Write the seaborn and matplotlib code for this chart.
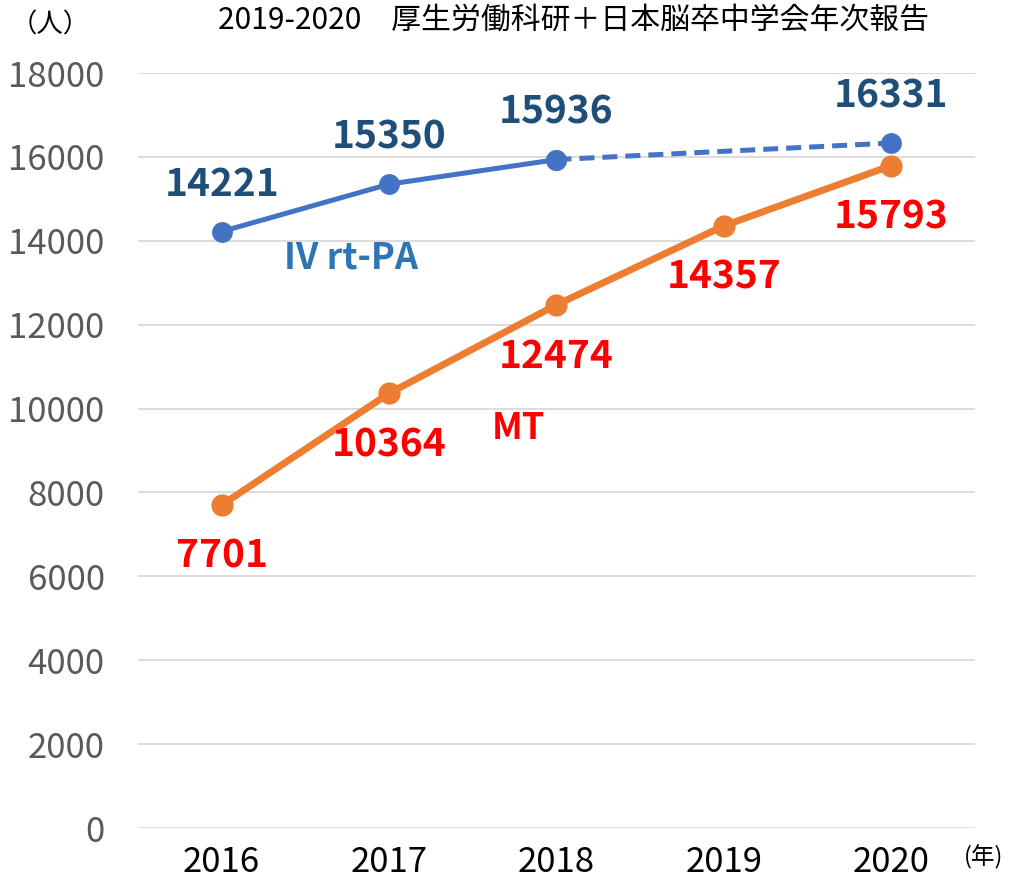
import pandas as pd
import matplotlib
matplotlib.use('Agg')
import matplotlib.pyplot as plt
import seaborn as sns

# data
years = [2016, 2017, 2018, 2019, 2020]
mt_values = [7701, 10364, 12474, 14357, 15793]
tpa_years = [2016, 2017, 2018]
tpa_values = [14221, 15350, 15936]
tpa_dash_years = [2018, 2020]
tpa_dash_values = [15936, 16331]

sns.set_style('white')
plt.rcParams['font.family'] = ['Noto Sans CJK JP', 'DejaVu Sans']

blue = '#4472C4'
orange = '#ED7D31'

fig = plt.figure(figsize=(10.1, 8.84), dpi=100)
ax = fig.add_axes([0.1366, 0.0633, 0.8287, 0.8541])

mt = pd.DataFrame({'year': years, 'value': mt_values})
tpa = pd.DataFrame({'year': tpa_years, 'value': tpa_values})
tpa2 = pd.DataFrame({'year': tpa_dash_years, 'value': tpa_dash_values})

sns.lineplot(data=tpa2, x='year', y='value', ax=ax, color=blue, lw=3.6,
             linestyle=(0, (3, 1.6)), marker='o', markersize=15, markeredgewidth=0)
sns.lineplot(data=tpa, x='year', y='value', ax=ax, color=blue, lw=3.6,
             marker='o', markersize=15, markeredgewidth=0)
sns.lineplot(data=mt, x='year', y='value', ax=ax, color=orange, lw=5,
             marker='o', markersize=16, markeredgewidth=0)

# data labels
for x, v in zip(tpa_years + [2020], tpa_values + [16331]):
    ax.annotate(str(v), (x, v), xytext=(0, 34), textcoords='offset points',
                ha='center', va='center', fontsize=28, fontweight='bold', color='#1F4E79')
for x, v in zip(years, mt_values):
    ax.annotate(str(v), (x, v), xytext=(0, -37), textcoords='offset points',
                ha='center', va='center', fontsize=28, fontweight='bold', color='#FF0000')

ax.text(2016.77, 13590, 'IV rt-PA', ha='center', va='center', fontsize=26,
        fontweight='bold', color='#2E75B6')
ax.text(2017.77, 9536, 'MT', ha='center', va='center', fontsize=26,
        fontweight='bold', color='#FF0000')

ax.set_xlim(2015.5, 2020.5)
ax.set_ylim(0, 18000)
ax.set_xticks(years)
ax.set_xticklabels([str(y) for y in years], fontsize=25, color='black')
ax.set_yticks(range(0, 18001, 2000))
ax.set_yticklabels([str(v) for v in range(0, 18001, 2000)], fontsize=25, color='#595959')
ax.tick_params(axis='both', length=0)
ax.tick_params(axis='x', pad=12)
ax.tick_params(axis='y', pad=24)
ax.set_xlabel('')
ax.set_ylabel('')
ax.grid(axis='y', color='#D9D9D9', lw=1.3)
for s in ax.spines.values():
    s.set_visible(False)

fig.text(0.568, 0.977, '2019-2020　厚生労働科研＋日本脳卒中学会年次報告', ha='center', va='center',
         fontsize=21.5, color='black')
fig.text(0.05, 0.972, '（人）', ha='center', va='center', fontsize=19, color='black')
fig.text(0.974, 0.03, '(年)', ha='center', va='center', fontsize=17, color='black')

fig.savefig('out.png', dpi=100)
